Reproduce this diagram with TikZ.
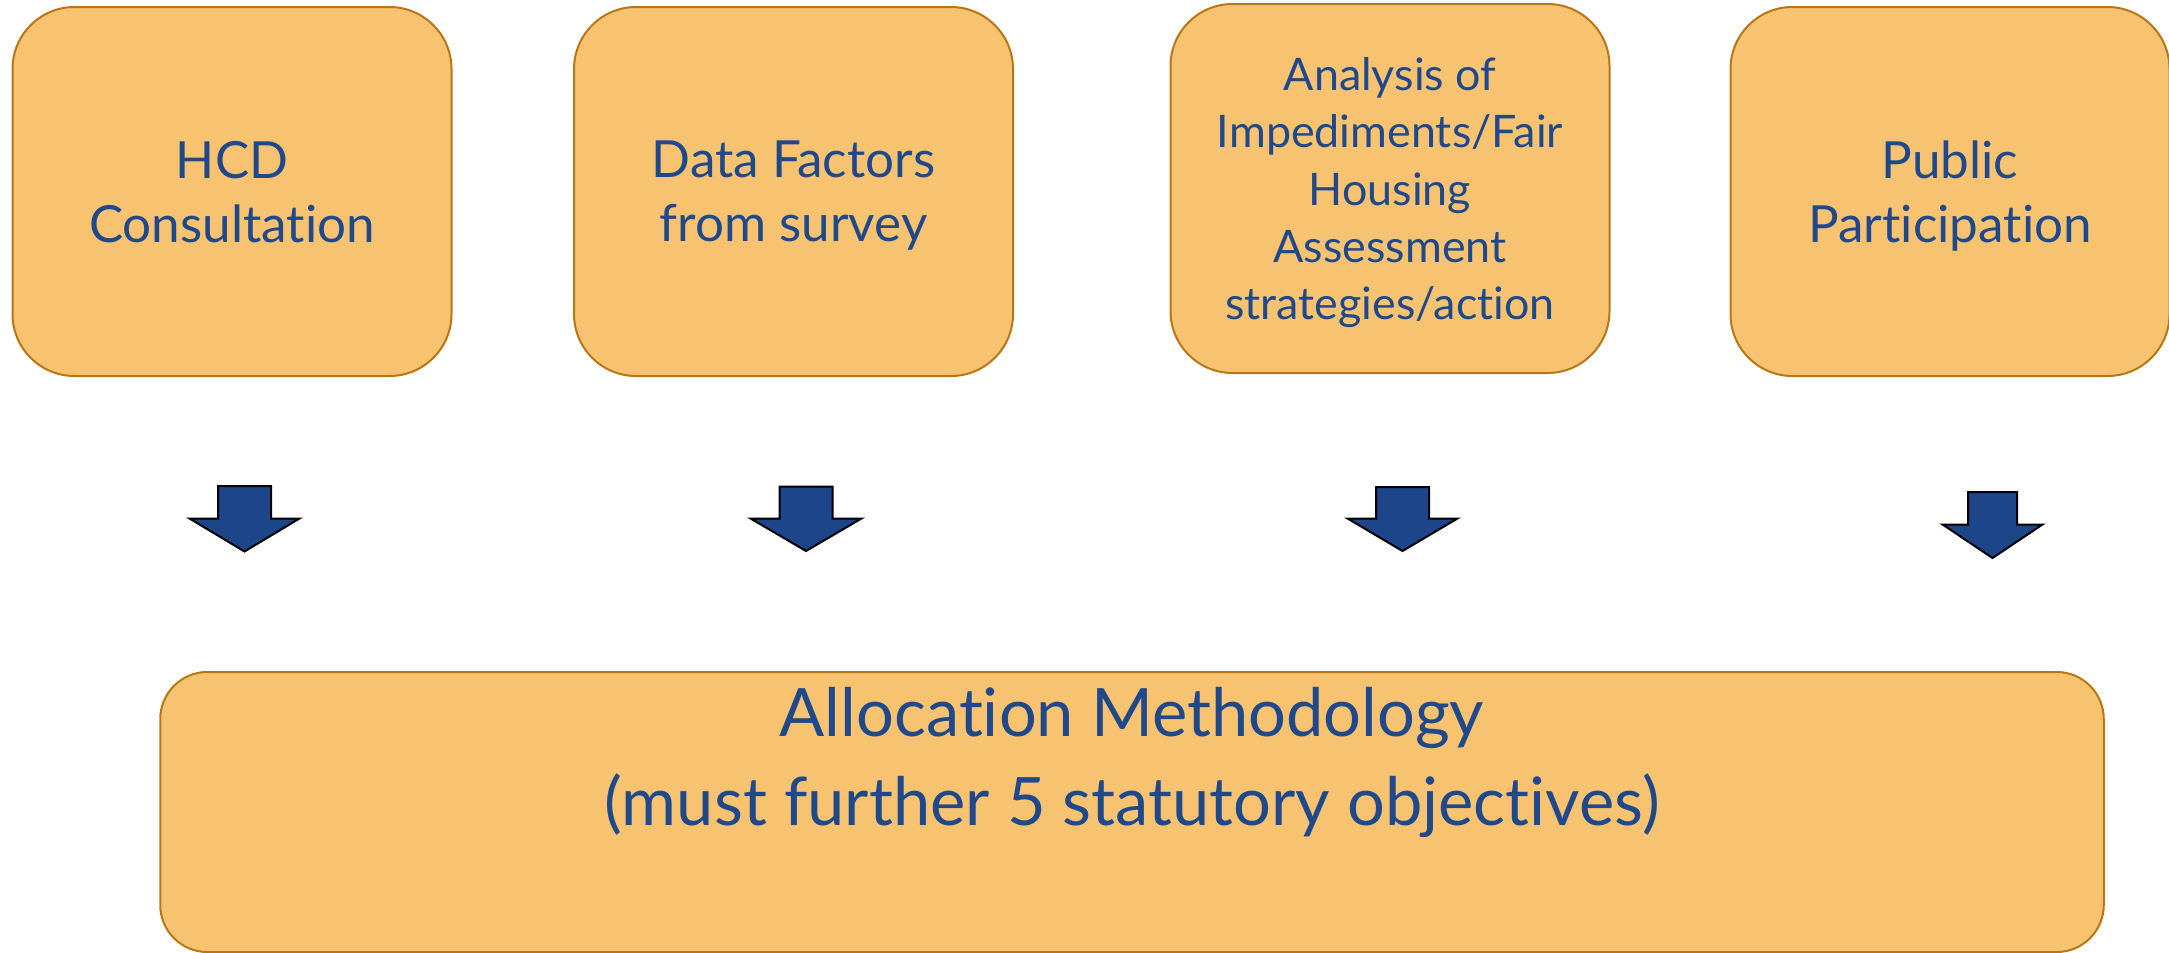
\documentclass[tikz,border=0pt]{standalone}
\usepackage{fontspec}
\setmainfont{Lato}[Ligatures=NoCommon]
\usetikzlibrary{positioning}
\definecolor{boxfill}{RGB}{248,195,113}
\definecolor{boxedge}{RGB}{184,118,22}
\definecolor{labelblue}{RGB}{31,73,139}
\definecolor{arrowblue}{RGB}{29,69,137}

\begin{document}
\begin{tikzpicture}[x=0.5pt, y=0.5pt,
      box/.style={draw=boxedge, fill=boxfill, line width=1pt, rounded corners=31pt,
                  minimum width=219.5pt, minimum height=184.5pt, align=center,
                  inner sep=0pt, text depth=0pt, text=labelblue,
                  font=\fontsize{25.6}{32}\selectfont},
      bigbox/.style={draw=boxedge, fill=boxfill, line width=1pt, rounded corners=23.5pt,
                  minimum width=971.75pt, minimum height=140pt},
      blockarr/.style={draw=black, fill=arrowblue, line width=1pt, line join=miter}
    ]
    \useasboundingbox (0,0) rectangle (2169,-953);

    % the four inputs
    \node[box] (hcd) at (232,-191.5) {HCD\\Consultation};
    \node[box] (data) at (793.5,-191.5) {Data Factors\\from survey};
    \node[box, font=\fontsize{22.4}{28.6}\selectfont] (ai) at (1390,-188.5)
          {Analysis of\\Impediments/Fair\\Housing\\Assessment\\strategies/action};
    \node[box] (pub) at (1950,-191.5) {Public\\Participation};

    % the methodology they feed
    \node[bigbox] (alloc) at (1132,-812) {};
    \node[anchor=north, inner sep=0pt, align=center, text=labelblue,
          font=\fontsize{33.4}{44.5}\selectfont] (alloctext) at ([yshift=-8pt]alloc.north)
          {Allocation Methodology\\(must further 5 statutory objectives)};

    % block arrows: centre / shaft top / head base / tip / half shaft / half head
    \foreach \ax/\ya/\yb/\yc/\sw/\hw in {244.5/486/518.5/551.5/26.5/55,
                                          806/486.5/518.5/551/26.5/55.5,
                                          1402.5/487/518.5/551/26.5/55,
                                          1992.5/492/524.5/558/24.5/50}{
      \draw[blockarr] (\ax-\sw,-\ya) -- (\ax+\sw,-\ya) -- (\ax+\sw,-\yb)
        -- (\ax+\hw,-\yb) -- (\ax,-\yc) -- (\ax-\hw,-\yb) -- (\ax-\sw,-\yb) -- cycle;
    }
  \end{tikzpicture}
\end{document}
